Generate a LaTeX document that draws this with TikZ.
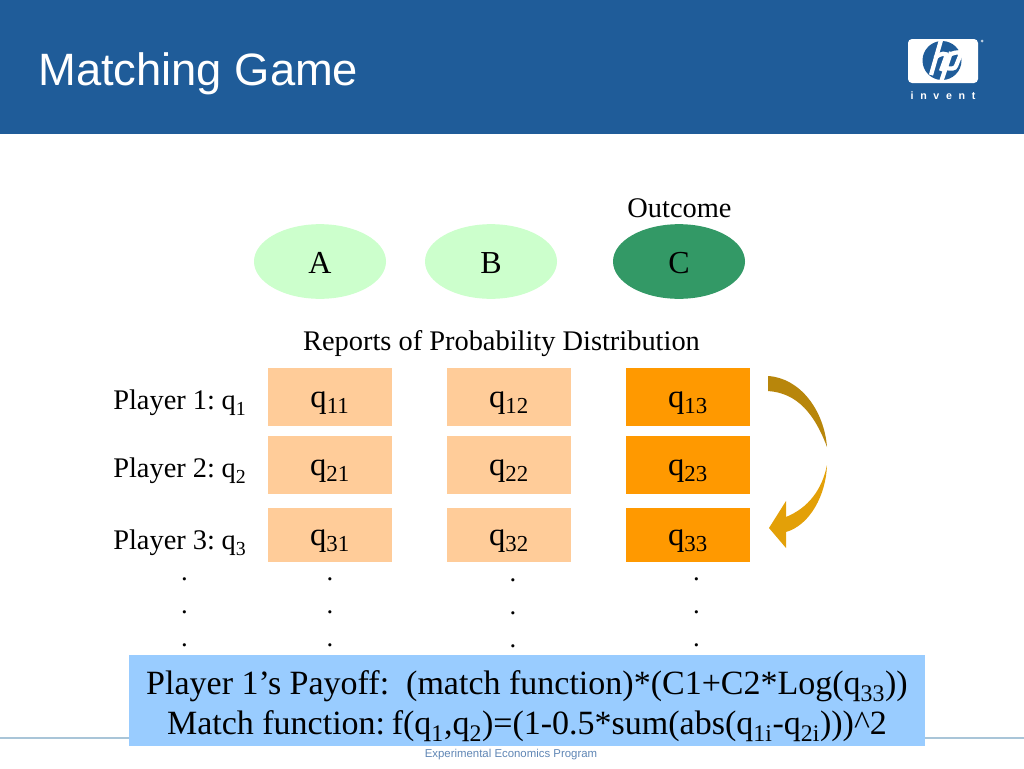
\documentclass[tikz,border=0pt]{standalone}
\usepackage{fontspec}
\setmainfont{Liberation Serif}
\newfontfamily\arialfont{Liberation Sans}
\usetikzlibrary{shapes.geometric}
\definecolor{headblue}{HTML}{1F5C99}
\definecolor{rulegray}{HTML}{A9C5D8}
\definecolor{footblue}{HTML}{5F86B5}
\definecolor{lightgreen}{HTML}{CCFFCC}
\definecolor{darkgreen}{HTML}{339966}
\definecolor{lightorange}{HTML}{FFCC99}
\definecolor{fullorange}{HTML}{FF9900}
\definecolor{payoffblue}{HTML}{99CCFF}
\definecolor{arrowdark}{HTML}{B8860B}
\definecolor{arrowlight}{HTML}{E3A008}
\newcommand{\lowsub}[1]{\raisebox{-0.06em}{\textsubscript{#1}}}
\tikzset{
	outcome/.style={ellipse,minimum width=99pt,minimum height=56pt,inner sep=0pt,text height=20pt,text depth=2pt,font=\fontsize{24}{24}\selectfont},
	report/.style={minimum width=93pt,inner sep=0pt,text height=20pt,text depth=5pt,font=\fontsize{24.5}{24}\selectfont},
	plain/.style={inner sep=0pt,font=\fontsize{21.3}{21.3}\selectfont},
	dotcol/.style={inner sep=0pt,align=center,font=\fontsize{20}{24.75}\selectfont},
	logostroke/.style={white,line width=3.2pt},
}

\begin{document}
\begin{tikzpicture}[x=0.75pt,y=-0.75pt,every node/.style={black}]
	\useasboundingbox (0,0) rectangle (1024,768);
	\fill[white] (0,0) rectangle (1024,768);

	% header
	\fill[headblue] (0,0) rectangle (1024,134);
	\node[white,anchor=west,inner sep=0pt,font=\arialfont\fontsize{34}{34}\selectfont] (title) at (38,74) {Matching Game};

	% logo
	\fill[white,rounded corners=3pt] (908,39) rectangle (978,83);
	\fill[headblue] (942,60.5) circle (19.5);
	\draw[logostroke] (941,40) -- (931,75);
	\draw[logostroke] (935,58) .. controls (939,53) and (949,52) .. (946,57) -- (941,71);
	\draw[logostroke] (951,52) -- (941,82);
	\draw[logostroke] (951,54) .. controls (956,52) and (962,51) .. (960,56) -- (956,66) .. controls (955,69) and (951,69) .. (946,68);
	\fill[white!70!headblue] (982,41) circle (1.5);
	\node[white,inner sep=0pt,font=\arialfont\bfseries\fontsize{8}{8}\selectfont] (invent) at (943,96) {i\hspace{5pt}n\hspace{5pt}v\hspace{5pt}e\hspace{5pt}n\hspace{5pt}t};

	% footer
	\fill[rulegray] (0,737) rectangle (1024,739);
	\node[inner sep=0pt,footblue,font=\arialfont\fontsize{8.55}{8.55}\selectfont] (foot) at (511,755) {Experimental Economics Program};

	% outcomes
	\node[plain] (outlabel) at (679.5,208) {Outcome};
	\node[outcome,fill=lightgreen] (A) at (320,261.5) {A};
	\node[outcome,fill=lightgreen] (B) at (491,261.5) {B};
	\node[outcome,fill=darkgreen] (C) at (679,261.5) {C};

	\node[plain] (reports) at (501.5,344) {Reports of Probability Distribution};

	% players
	\node[plain,anchor=west] (p1) at (113,403) {Player 1:\hspace{5pt}q\lowsub{1}};
	\node[plain,anchor=west] (p2) at (113,471) {Player 2:\hspace{5pt}q\lowsub{2}};
	\node[plain,anchor=west] (p3) at (113,543) {Player 3:\hspace{5pt}q\lowsub{3}};

	% reports table
	\begin{scope}[every node/.append style={report}]
		\node[fill=lightorange,minimum height=43.5pt] (q11) at (330,397) {q\lowsub{11}};
		\node[fill=lightorange,minimum height=43.5pt] (q12) at (509,397) {q\lowsub{12}};
		\node[fill=fullorange,minimum height=43.5pt] (q13) at (688,397) {q\lowsub{13}};
		\node[fill=lightorange,minimum height=43.5pt] (q21) at (330,465) {q\lowsub{21}};
		\node[fill=lightorange,minimum height=43.5pt] (q22) at (509,465) {q\lowsub{22}};
		\node[fill=fullorange,minimum height=43.5pt] (q23) at (688,465) {q\lowsub{23}};
		\node[fill=lightorange,minimum height=40.5pt] (q31) at (330,535) {q\lowsub{31}};
		\node[fill=lightorange,minimum height=40.5pt] (q32) at (509,535) {q\lowsub{32}};
		\node[fill=fullorange,minimum height=40.5pt] (q33) at (688,535) {q\lowsub{33}};
	\end{scope}

	% dots
	\node[dotcol] (dots0) at (184.5,612) {.\\.\\.};
	\node[dotcol] (dots1) at (330,612) {.\\.\\.};
	\node[dotcol] (dots2) at (513,613) {.\\.\\.};
	\node[dotcol] (dots3) at (696.5,612) {.\\.\\.};

	% arrows
	\fill[arrowdark] (768,376) .. controls (800,378) and (824,410) .. (827,447)
		.. controls (815,415) and (798,393) .. (768,391) -- cycle;
	\fill[arrowlight] (827,465) .. controls (826,495) and (810,525) .. (786,532)
		-- (786,548) -- (769,528) -- (786,501) -- (786,517)
		.. controls (808,508) and (822,490) .. (827,465) -- cycle;

	% payoff
	\fill[payoffblue] (129,655) rectangle (925,746);
	\node[inner sep=0pt,align=center,font=\fontsize{25.5}{30.5}\selectfont] (payoff) at (527,706) {Player 1’s Payoff:\ \ (match function)*(C1+C2*Log(q\lowsub{33}))\\Match function:\hspace{5pt}f(q\lowsub{1},q\lowsub{2})=(1-0.5*sum(abs(q\lowsub{1i}-q\lowsub{2i})))\textasciicircum 2};
\end{tikzpicture}
\end{document}
